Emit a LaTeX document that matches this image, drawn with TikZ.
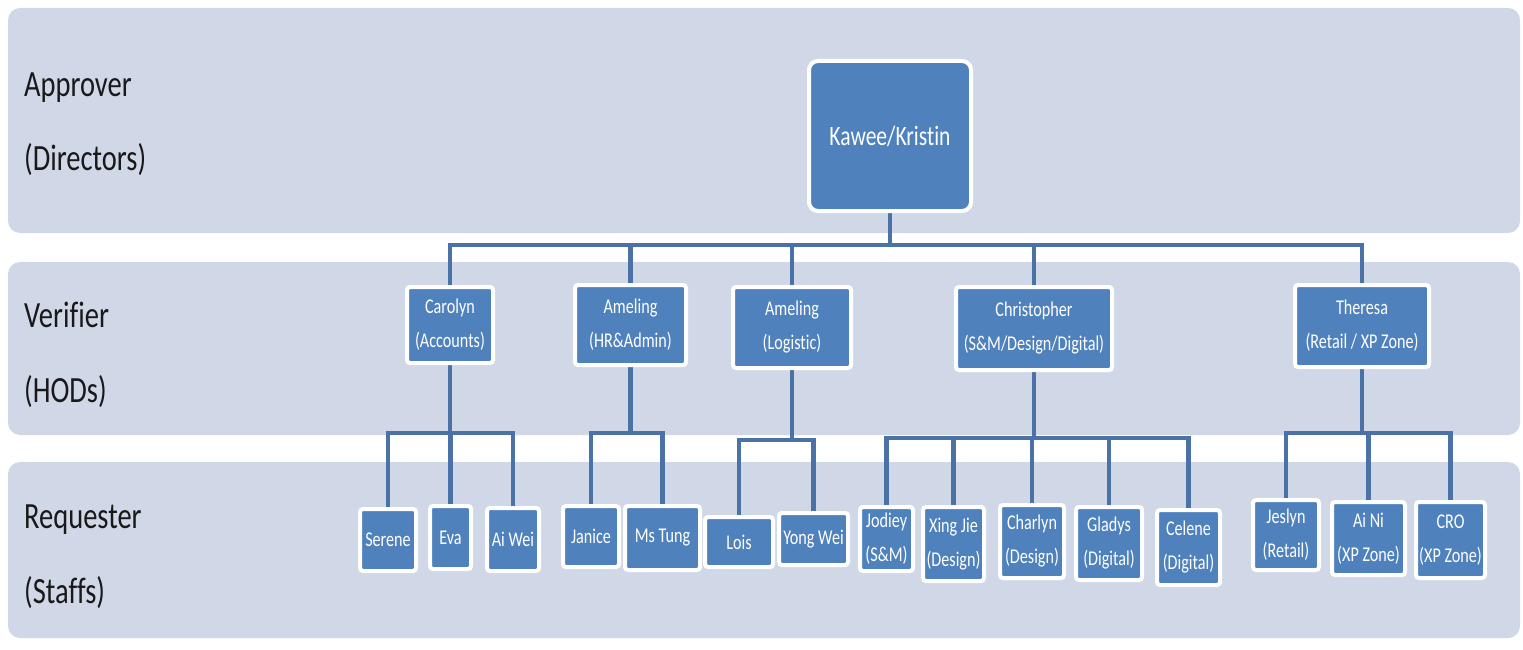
\documentclass[tikz,border=0pt]{standalone}
\usepackage{fontspec}
\setmainfont{Carlito}[FakeStretch=0.77, Ligatures=NoCommon]
\definecolor{bandcol}{HTML}{D0D8E8}
\definecolor{nodeblue}{HTML}{4F81BD}
\definecolor{linkblue}{HTML}{4A72A6}
\pgfdeclarelayer{bands}
\pgfdeclarelayer{links}
\pgfsetlayers{bands,links,main}
\begin{document}
\begin{tikzpicture}[x=1pt,y=-1pt,
  bandbox/.style={fill=bandcol, draw=none, rounded corners=12pt},
  orgbox/.style={draw=white, line width=4pt, fill=nodeblue, rounded corners=3pt, inner sep=0pt, align=center, text=white, font=\fontsize{21}{34}\selectfont},
  topbox/.style={orgbox, rounded corners=9pt, font=\fontsize{28}{34}\selectfont},
  rowlabel/.style={anchor=base west, inner sep=0pt, font=\fontsize{37}{44}\selectfont, text=black!90},
  link/.style={draw=linkblue, line width=4.5pt}
]
\useasboundingbox (0,0) rectangle (1523,650);

% row labels
\node[rowlabel] (l1a) at (24,97) {Approver};
\node[rowlabel] (l1b) at (24,170) {(Directors)};
\node[rowlabel] (l2a) at (24,327) {Verifier};
\node[rowlabel] (l2b) at (24,402) {(HODs)};
\node[rowlabel] (l3a) at (24,528) {Requester};
\node[rowlabel] (l3b) at (24,603) {(Staffs)};

% approver
\node[topbox, minimum width=162pt, minimum height=150pt] (top) at (890,136) {Kawee/Kristin};

% verifiers
\node[orgbox, minimum width=86pt, minimum height=76pt] (car) at (450,325) {Carolyn\\(Accounts)};
\node[orgbox, minimum width=111pt, minimum height=80pt] (hr) at (630.5,325) {Ameling\\(HR\&Admin)};
\node[orgbox, minimum width=118pt, minimum height=81pt] (log) at (792,327.5) {Ameling\\(Logistic)};
\node[orgbox, minimum width=156pt, minimum height=83pt] (chr) at (1034,328.5) {Christopher\\(S\&M/Design/Digital)};
\node[orgbox, minimum width=134pt, minimum height=82pt] (the) at (1362,326) {Theresa\\(Retail / XP Zone)};

% requesters
\node[orgbox, minimum width=56pt, minimum height=62pt] (serene) at (388,540) {Serene};
\node[orgbox, minimum width=41pt, minimum height=63pt] (eva) at (450.5,537.5) {Eva};
\node[orgbox, minimum width=52pt, minimum height=63pt] (aiwei) at (513,539.5) {Ai Wei};
\node[orgbox, minimum width=56pt, minimum height=61pt] (janice) at (591,536.5) {Janice};
\node[orgbox, minimum width=75pt, minimum height=64pt] (mstung) at (662.5,538) {Ms Tung};
\node[orgbox, minimum width=68pt, minimum height=50pt] (lois) at (739,542) {Lois};
\node[orgbox, minimum width=69pt, minimum height=52pt] (yongwei) at (813.5,539) {Yong Wei};
\node[orgbox, minimum width=53pt, minimum height=64pt] (jodiey) at (886.5,539) {Jodiey\\(S\&M)};
\node[orgbox, minimum width=61pt, minimum height=74pt] (xingjie) at (953.5,544) {Xing Jie\\(Design)};
\node[orgbox, minimum width=64pt, minimum height=73pt] (charlyn) at (1032,541.5) {Charlyn\\(Design)};
\node[orgbox, minimum width=66pt, minimum height=73pt] (gladys) at (1109,543.5) {Gladys\\(Digital)};
\node[orgbox, minimum width=63pt, minimum height=75pt] (celene) at (1188.5,547.5) {Celene\\(Digital)};
\node[orgbox, minimum width=66pt, minimum height=70pt] (jeslyn) at (1286,535) {Jeslyn\\(Retail)};
\node[orgbox, minimum width=73pt, minimum height=73pt] (aini) at (1368.5,538.5) {Ai Ni\\(XP Zone)};
\node[orgbox, minimum width=69pt, minimum height=76pt] (cro) at (1450.5,540) {CRO\\(XP Zone)};

% bands
\begin{pgfonlayer}{bands}
\fill[bandbox] (8,8) rectangle (1520,233);
\fill[bandbox] (8,262) rectangle (1520,435);
\fill[bandbox] (8,462) rectangle (1520,638);
\end{pgfonlayer}

% connectors
\begin{pgfonlayer}{links}
\coordinate (j0) at (890,245);
\draw[link] (top.south) -- (j0);
\draw[link] (j0) -| (car.north);
\draw[link] (j0) -| (hr.north);
\draw[link] (j0) -| (log.north);
\draw[link] (j0) -| (chr.north);
\draw[link] (j0) -| (the.north);

\coordinate (j1) at (450,433);
\draw[link] (car.south) -- (j1);
\draw[link] (j1) -| (serene.north);
\draw[link] (j1) -| (eva.north);
\draw[link] (j1) -| (aiwei.north);

\coordinate (j2) at (630.5,433);
\draw[link] (hr.south) -- (j2);
\draw[link] (j2) -| (janice.north);
\draw[link] (j2) -| (mstung.north);

\coordinate (j3) at (792,440);
\draw[link] (log.south) -- (j3);
\draw[link] (j3) -| (lois.north);
\draw[link] (j3) -| (yongwei.north);

\coordinate (j4) at (1034,438);
\draw[link] (chr.south) -- (j4);
\draw[link] (j4) -| (jodiey.north);
\draw[link] (j4) -| (xingjie.north);
\draw[link] (j4) -| (charlyn.north);
\draw[link] (j4) -| (gladys.north);
\draw[link] (j4) -| (celene.north);

\coordinate (j5) at (1362,433);
\draw[link] (the.south) -- (j5);
\draw[link] (j5) -| (jeslyn.north);
\draw[link] (j5) -| (aini.north);
\draw[link] (j5) -| (cro.north);
\end{pgfonlayer}
\end{tikzpicture}
\end{document}
